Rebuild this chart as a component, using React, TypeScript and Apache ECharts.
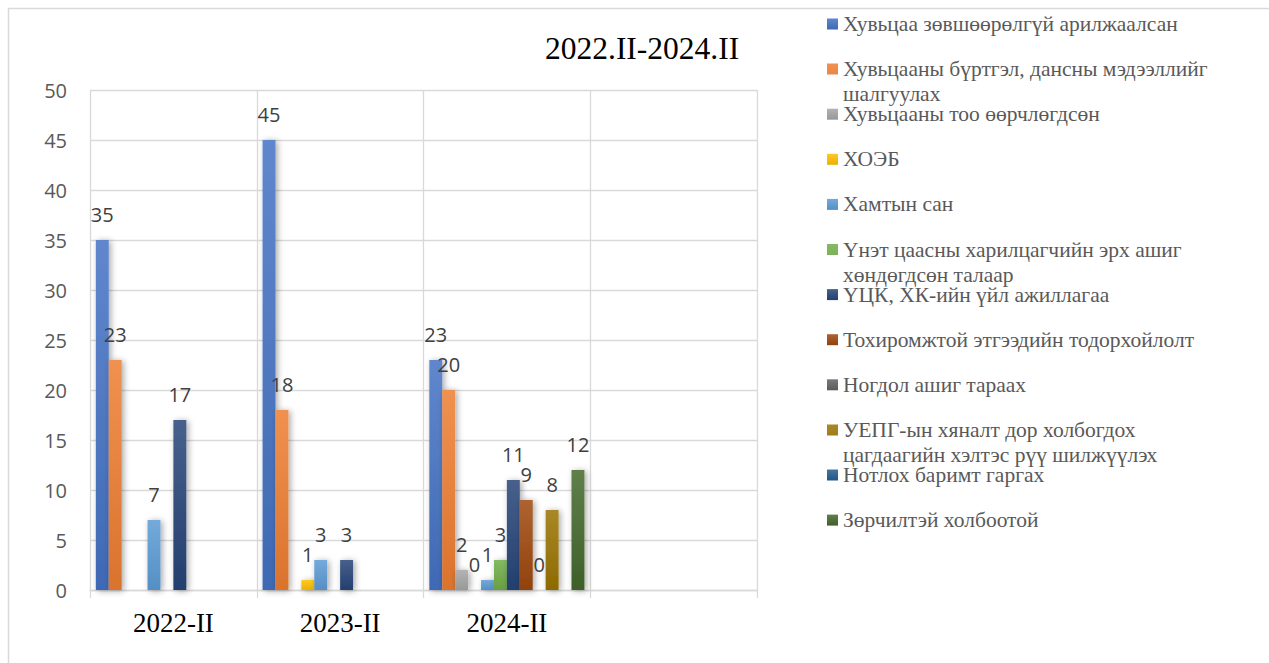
import { useEffect, useRef } from 'react';
import * as echarts from 'echarts';

const TITLE = '2022.II-2024.II';
const CATEGORIES = ['2022-II', '2023-II', '2024-II', ''];

const SERIES_NAMES = [
  'Хувьцаа зөвшөөрөлгүй арилжаалсан',
  'Хувьцааны бүртгэл, дансны мэдээллийг шалгуулах',
  'Хувьцааны тоо өөрчлөгдсөн',
  'ХОЭБ',
  'Хамтын сан',
  'Үнэт цаасны харилцагчийн эрх ашиг хөндөгдсөн талаар',
  'ҮЦК, ХК-ийн үйл ажиллагаа',
  'Тохиромжтой этгээдийн тодорхойлолт',
  'Ногдол ашиг тараах',
  'УЕПГ-ын хяналт дор холбогдох цагдаагийн хэлтэс рүү шилжүүлэх',
  'Нотлох баримт гаргах',
  'Зөрчилтэй холбоотой',
];

// values per category (2022-II, 2023-II, 2024-II); null = no bar
const V_UNAUTHORIZED_TRADE = [35, 45, 23];
const V_REGISTRY_CHECK = [23, 18, 20];
const V_SHARE_COUNT = [null, null, 2];
const V_HOEB = [null, 1, 0];
const V_MUTUAL_FUND = [7, 3, 1];
const V_CLIENT_RIGHTS = [null, null, 3];
const V_BROKER_ACTIVITY = [17, 3, 11];
const V_SUITABLE_PERSON = [null, null, 9];
const V_DIVIDEND = [null, null, 0];
const V_POLICE_TRANSFER = [null, null, 8];
const V_EVIDENCE = [null, null, null];
const V_VIOLATION = [null, null, 12];

const SERIES_VALUES = [
  V_UNAUTHORIZED_TRADE,
  V_REGISTRY_CHECK,
  V_SHARE_COUNT,
  V_HOEB,
  V_MUTUAL_FUND,
  V_CLIENT_RIGHTS,
  V_BROKER_ACTIVITY,
  V_SUITABLE_PERSON,
  V_DIVIDEND,
  V_POLICE_TRANSFER,
  V_EVIDENCE,
  V_VIOLATION,
];

const Y_MIN = 0;
const Y_MAX = 50;
const Y_INTERVAL = 5;

const COLORS = [
  '#4472C4', '#ED7D31', '#A5A5A5', '#FFC000', '#5B9BD5', '#70AD47',
  '#264478', '#9E480E', '#636363', '#997300', '#255E91', '#43682B',
];

// legend entries that wrap: index -> number of words on first line
const LEGEND_BREAKS: Record<number, number> = { 1: 4, 5: 5, 9: 4 };

function wrapName(name: string, i: number): string {
  const n = LEGEND_BREAKS[i];
  if (!n) return name;
  const w = name.split(' ');
  return w.slice(0, n).join(' ') + '\n' + w.slice(n).join(' ');
}

function mix(hex: string, target: string, t: number): string {
  const p = (h: string) => [1, 3, 5].map((i) => parseInt(h.slice(i, i + 2), 16));
  const a = p(hex);
  const b = p(target);
  const c = a.map((v, i) => Math.round(v + (b[i] - v) * t));
  return '#' + c.map((v) => v.toString(16).padStart(2, '0')).join('');
}

const NUM_FONT = "'Open Sans', 'Noto Sans', sans-serif";
const SERIF_FONT = "'Liberation Serif', 'Times New Roman', serif";
const GRID_COLOR = '#d9d9d9';
// square at the top of a taller (invisible) box so it lines up with the first text line
const TOP_SQUARE_ICON = 'path://M0,0h11v11h-11z M0,36h11';

export default function App() {
  const ref = useRef<HTMLDivElement>(null);

  useEffect(() => {
    if (!ref.current) return;
    const chart = echarts.init(ref.current, undefined, { renderer: 'svg' });

    const series = SERIES_NAMES.map((name, i) => {
      const c = COLORS[i];
      return {
        type: 'bar',
        name,
        data: SERIES_VALUES[i],
        barGap: '0%',
        barCategoryGap: '7%',
        emphasis: { disabled: true },
        itemStyle: {
          color: new echarts.graphic.LinearGradient(0, 0, 0, 1, [
            { offset: 0, color: mix(c, '#ffffff', 0.15) },
            { offset: 1, color: mix(c, '#000000', 0.08) },
          ]),
          shadowColor: 'rgba(0,0,0,0.35)',
          shadowBlur: 6,
          shadowOffsetX: 2,
          shadowOffsetY: 1,
        },
        label: {
          show: true,
          position: 'top',
          distance: 16,
          fontFamily: NUM_FONT,
          fontSize: 20,
          color: '#404040',
        },
      };
    });

    const legends = SERIES_NAMES.map((name, i) => {
      const center = 24 + 45.1 * i;
      const wrapped = !!LEGEND_BREAKS[i];
      return {
        data: [name],
        orient: 'vertical',
        left: 827,
        top: center - 12.5,
        padding: 0,
        itemWidth: 11,
        itemHeight: wrapped ? 36 : 11,
        icon: wrapped ? TOP_SQUARE_ICON : 'rect',
        selectedMode: false,
        formatter: (n: string) => wrapName(n, i),
        textStyle: {
          fontFamily: SERIF_FONT,
          fontSize: 21.5,
          color: '#595959',
          lineHeight: 25,
        },
      };
    });

    chart.setOption({
      animation: false,
      title: {
        text: TITLE,
        left: 545,
        top: 32,
        padding: 0,
        textStyle: {
          fontFamily: SERIF_FONT,
          fontSize: 31.5,
          fontWeight: 'normal',
          color: '#000000',
        },
      },
      graphic: [
        {
          type: 'rect',
          silent: true,
          z: -10,
          shape: { x: 8.5, y: 8.5, width: 1400, height: 800 },
          style: { fill: 'none', stroke: GRID_COLOR, lineWidth: 1.5 },
        },
      ],
      legend: legends,
      grid: { left: 90, right: 512, top: 90, bottom: 73, containLabel: false },
      xAxis: {
        type: 'category',
        data: CATEGORIES,
        boundaryGap: true,
        axisLine: { show: true, lineStyle: { color: GRID_COLOR, width: 1.3 } },
        axisTick: { show: true, length: 8, interval: 0, lineStyle: { color: GRID_COLOR, width: 1.3 } },
        splitLine: { show: true, interval: 0, lineStyle: { color: GRID_COLOR, width: 1.3 } },
        axisLabel: {
          interval: 0,
          margin: 19,
          fontFamily: SERIF_FONT,
          fontSize: 27,
          color: '#000000',
        },
      },
      yAxis: {
        type: 'value',
        min: Y_MIN,
        max: Y_MAX,
        interval: Y_INTERVAL,
        axisLine: { show: false },
        axisTick: { show: false },
        splitLine: { show: true, lineStyle: { color: GRID_COLOR, width: 1.3 } },
        axisLabel: {
          margin: 23,
          fontFamily: NUM_FONT,
          fontSize: 20,
          color: '#595959',
        },
      },
      series,
    });

    return () => chart.dispose();
  }, []);

  return (
    <div
      ref={ref}
      style={{ position: 'absolute', left: 0, top: 0, width: 1269, height: 663, background: '#ffffff' }}
    />
  );
}
